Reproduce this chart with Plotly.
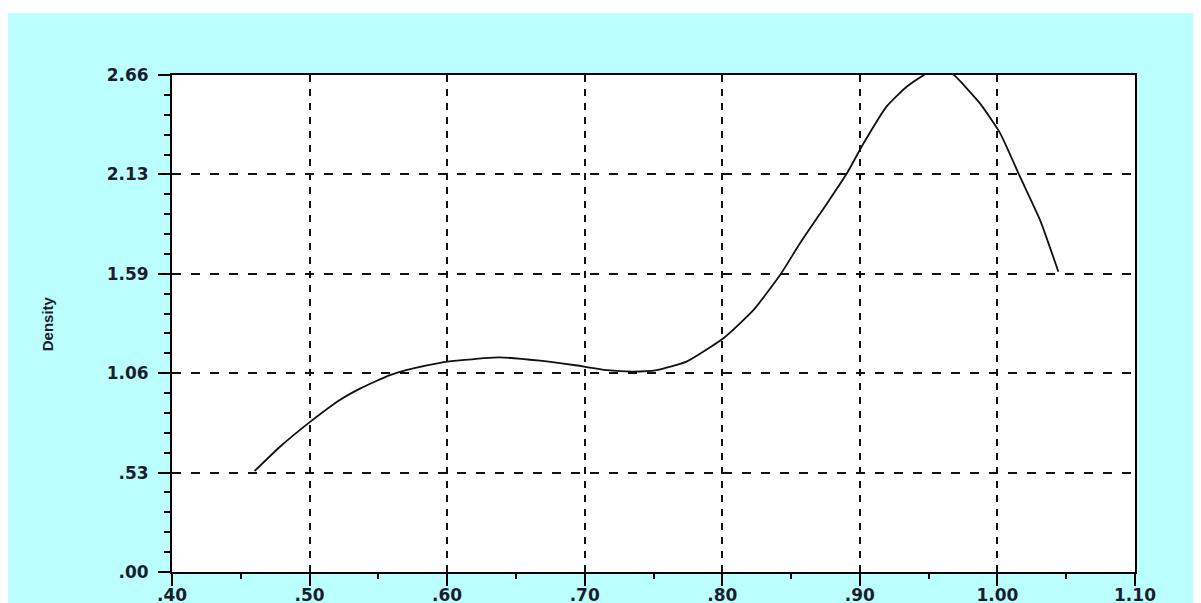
import plotly.graph_objects as go

# ---- data ----
x_vals = [0.46, 0.4785, 0.499, 0.522, 0.537, 0.5585, 0.5754, 0.595, 0.607, 0.638,
          0.6675, 0.692, 0.716, 0.735, 0.7523, 0.774, 0.8008, 0.8226, 0.842, 0.8565,
          0.876, 0.8904, 0.9025, 0.9195, 0.934, 0.947, 0.957, 0.968, 0.9873, 1.002,
          1.0164, 1.031, 1.0443]
density_vals = [0.54, 0.67, 0.795, 0.92, 0.982, 1.053, 1.089, 1.119, 1.13, 1.148,
                1.13, 1.107, 1.08, 1.072, 1.08, 1.125, 1.25, 1.40, 1.588, 1.758,
                1.97, 2.13, 2.29, 2.49, 2.595, 2.66, 2.70, 2.66, 2.506, 2.346,
                2.114, 1.882, 1.606]

x_tick_vals = [0.4, 0.5, 0.6, 0.7, 0.8, 0.9, 1.0, 1.1]
x_tick_text = [".40", ".50", ".60", ".70", ".80", ".90", "1.00", "1.10"]
y_tick_vals = [0.0, 0.5316, 1.0632, 1.5948, 2.1264, 2.658]
y_tick_text = [".00", ".53", "1.06", "1.59", "2.13", "2.66"]
y_title = "Density"

# ---- styling ----
BG = "#bbffff"
INK = "#1c1c2e"
tick_font = dict(family="DejaVu Sans", size=17, color=INK, weight="bold")

fig = go.Figure()
fig.add_trace(go.Scatter(x=x_vals, y=density_vals, mode="lines",
                         line=dict(color="#111111", width=1.8, shape="spline", smoothing=0.5),
                         showlegend=False, hoverinfo="skip"))

fig.update_layout(
    width=1201, height=603,
    margin=dict(l=164, r=74, t=67, b=39, autoexpand=False),
    paper_bgcolor=BG, plot_bgcolor="white",
    shapes=[dict(type="rect", xref="paper", yref="paper",
                 x0=-0.3, x1=1.2, y0=1.1247, y1=1.16,
                 fillcolor="white", line=dict(width=0), layer="below")],
    annotations=[dict(text=y_title, textangle=-90, showarrow=False,
                      xref="paper", yref="paper", x=-0.129, y=0.5,
                      xanchor="center", yanchor="middle",
                      font=dict(family="Liberation Sans", size=15, color=INK, weight="bold"))],
)

fig.update_xaxes(
    range=[0.4, 1.1], tickmode="array", tickvals=x_tick_vals, ticktext=x_tick_text,
    ticks="outside", ticklen=12, tickwidth=2, tickcolor="black",
    tickfont=tick_font, ticklabelstandoff=-5,
    showline=True, linecolor="black", linewidth=2, mirror=True,
    showgrid=True, gridcolor="#111111", gridwidth=2, griddash="7px,7px",
    zeroline=False,
    minor=dict(dtick=0.05, tick0=0.4, ticks="outside", ticklen=5, tickwidth=2,
               tickcolor="black", showgrid=False),
)
fig.update_yaxes(
    range=[0, 2.658], tickmode="array", tickvals=y_tick_vals, ticktext=y_tick_text,
    ticks="outside", ticklen=12, tickwidth=2, tickcolor="black",
    tickfont=tick_font, ticklabelstandoff=6,
    showline=True, linecolor="black", linewidth=2, mirror=True,
    showgrid=True, gridcolor="#111111", gridwidth=2, griddash="9px,10px",
    zeroline=False,
    minor=dict(dtick=0.10632, tick0=0, ticks="outside", ticklen=6, tickwidth=2,
               tickcolor="black", showgrid=False),
)

fig.write_html("out.html")
